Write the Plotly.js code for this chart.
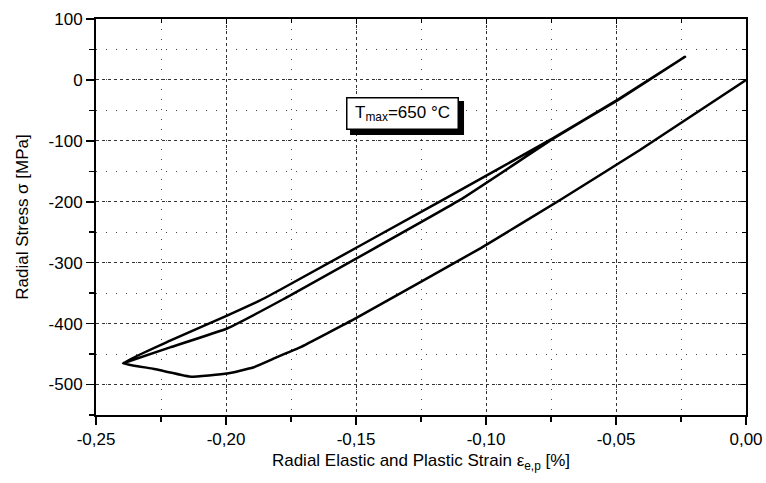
<!DOCTYPE html>
<html>
<head>
<meta charset="utf-8">
<script src="https://cdn.plot.ly/plotly-3.0.1.min.js"></script>
<style>html,body{margin:0;padding:0;background:#fff;}</style>
</head>
<body>
<div id="chart" style="width:766px;height:483px;"></div>
<script>
// Loading branch: origin -> tip (lower curve)
const lowerX = [0, -0.0408, -0.0715, -0.102, -0.150, -0.1715, -0.1804, -0.1896, -0.1996, -0.2138, -0.228, -0.2396];
const lowerY = [0, -115, -197, -276, -391, -439, -455, -472, -482, -487, -474, -465];
// Upper branch: tip -> end point
const upperX = [-0.2396, -0.2215, -0.1996, -0.1869, -0.179, -0.1166, -0.074, -0.0496, -0.0235];
const upperY = [-465, -428, -387, -362, -344, -197, -95, -33, 38];
// Middle branch: end point -> tip
const middleX = [-0.0235, -0.0496, -0.074, -0.110, -0.178, -0.1996, -0.2215, -0.2396];
const middleY = [38, -34, -96, -197, -360, -408, -439, -465];

const xTickVals = [-0.25, -0.20, -0.15, -0.10, -0.05, 0.00];
const xTickText = ["-0,25", "-0,20", "-0,15", "-0,10", "-0,05", "0,00"];
const yTickVals = [100, 0, -100, -200, -300, -400, -500];
const yTickText = ["100", "0", "-100", "-200", "-300", "-400", "-500"];

const xs = lowerX.concat(upperX.slice(1), middleX.slice(1));
const ys = lowerY.concat(upperY.slice(1), middleY.slice(1));

const font = "Liberation Sans, Arial, sans-serif";

const data = [
  {x: xs, y: ys, type: "scatter", mode: "lines",
   line: {color: "#000", width: 2.5, shape: "spline", smoothing: 0.3},
   hoverinfo: "skip", showlegend: false},
  {x: [null], y: [null], xaxis: "x2", yaxis: "y2", type: "scatter", mode: "lines", showlegend: false, hoverinfo: "skip"}
];

const layout = {
  width: 766, height: 483,
  margin: {l: 96, r: 20, t: 19, b: 68},
  paper_bgcolor: "#fff", plot_bgcolor: "#fff",
  font: {family: font, color: "#000", size: 17},
  showlegend: false,
  xaxis: {
    range: [-0.25, 0.0], tickvals: xTickVals, ticktext: xTickText,
    ticks: "outside", ticklen: 8, tickwidth: 1.5, tickcolor: "#000",
    showline: true, linecolor: "#000", linewidth: 2, mirror: true,
    zeroline: false, showgrid: true, gridcolor: "#333", gridwidth: 1, griddash: "dot",
    minor: {dtick: 0.025, tick0: 0, ticks: "outside", ticklen: 5, tickcolor: "#000", showgrid: true, gridcolor: "#444", griddash: "1px,9px", gridwidth: 1},
    tickfont: {size: 17, family: font},
    title: {text: "Radial Elastic and Plastic Strain ε<sub>e,p</sub> [%]", font: {size: 17, family: font}, standoff: 6}
  },
  yaxis: {
    range: [-550, 100], tickvals: yTickVals, ticktext: yTickText,
    ticks: "outside", ticklen: 8, tickwidth: 1.5, tickcolor: "#000",
    showline: true, linecolor: "#000", linewidth: 2, mirror: true,
    zeroline: false, showgrid: true, gridcolor: "#333", gridwidth: 1, griddash: "dot",
    minor: {dtick: 50, tick0: 0, ticks: "outside", ticklen: 5, tickcolor: "#000", showgrid: true, gridcolor: "#444", griddash: "1px,9px", gridwidth: 1},
    tickfont: {size: 17, family: font},
    title: {text: "Radial Stress σ [MPa]", font: {size: 17, family: font}, standoff: 16}
  },
  xaxis2: {
    overlaying: "x", side: "top", anchor: "y", range: [-0.25, 0.0], tickvals: xTickVals,
    showticklabels: false, ticks: "inside", ticklen: 5, tickcolor: "#000", showgrid: false, zeroline: false,
    minor: {dtick: 0.025, tick0: 0, ticks: "inside", ticklen: 4, tickcolor: "#000"}
  },
  yaxis2: {
    overlaying: "y", side: "right", anchor: "x", range: [-550, 100], tickvals: yTickVals,
    showticklabels: false, ticks: "inside", ticklen: 5, tickcolor: "#000", showgrid: false, zeroline: false,
    minor: {dtick: 50, tick0: 0, ticks: "inside", ticklen: 4, tickcolor: "#000"}
  },
  shapes: [
    {type: "rect", xref: "paper", yref: "paper", x0: 0.3908, x1: 0.5662, y0: 0.7071, y1: 0.7929,
     fillcolor: "#000", line: {width: 0}, layer: "above"}
  ],
  annotations: [
    {x: 0.4708, y: 0.7626, xref: "paper", yref: "paper", xanchor: "center", yanchor: "middle",
     text: "T<sub>max</sub>=650 °C", showarrow: false,
     width: 108, height: 28, borderpad: 1, bgcolor: "#fff", bordercolor: "#000", borderwidth: 1.5,
     font: {size: 17, family: font, color: "#000"}}
  ]
};

Plotly.newPlot("chart", data, layout, {displayModeBar: false, staticPlot: true});
</script>
</body>
</html>
